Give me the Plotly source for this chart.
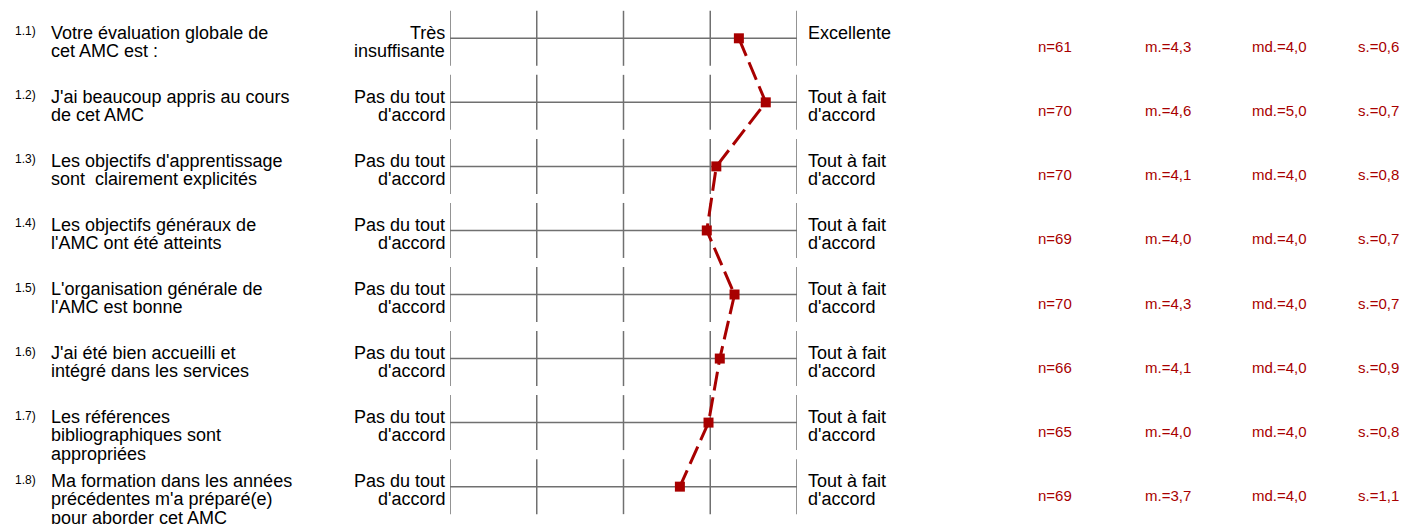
import plotly.graph_objects as go

W, H = 1404, 524

qnums = ["1.1)", "1.2)", "1.3)", "1.4)", "1.5)", "1.6)", "1.7)", "1.8)"]
questions = [
    ["Votre évaluation globale de", "cet AMC est :"],
    ["J'ai beaucoup appris au cours", "de cet AMC"],
    ["Les objectifs d'apprentissage", "sont\u00a0 clairement explicités"],
    ["Les objectifs généraux de", "l'AMC ont été atteints"],
    ["L'organisation générale de", "l'AMC est bonne"],
    ["J'ai été bien accueilli et", "intégré dans les services"],
    ["Les références", "bibliographiques sont", "appropriées"],
    ["Ma formation dans les années", "précédentes m'a préparé(e)", "pour aborder cet AMC"],
]
left_labels = [["Très", "insuffisante"]] + [["Pas du tout", "d'accord"]] * 7
right_labels = [["Excellente"]] + [["Tout à fait", "d'accord"]] * 7
means_plot = [4.33, 4.64, 4.07, 3.96, 4.28, 4.11, 3.98, 3.65]
n_vals = [61, 70, 70, 69, 70, 66, 65, 69]
mean_txt = ["4,3", "4,6", "4,1", "4,0", "4,3", "4,1", "4,0", "3,7"]
median_txt = ["4,0", "5,0", "4,0", "4,0", "4,0", "4,0", "4,0", "4,0"]
sd_txt = ["0,6", "0,7", "0,8", "0,7", "0,7", "0,9", "0,8", "1,1"]
scale_points = [1, 2, 3, 4, 5]

RED = "#a80000"
GRID = "#707070"
FONT = "Arial, Liberation Sans, sans-serif"

# pixel geometry
x_left_px, x_right_px = 450, 797
row0_px, row_step = 38.3, 64.05
y_top = -row0_px / row_step
y_bot = y_top + H / row_step

rows = list(range(len(qnums)))

fig = go.Figure()
fig.add_trace(go.Scatter(
    x=means_plot, y=rows, mode="lines+markers",
    line=dict(color=RED, width=3, dash="19px,7px"),
    marker=dict(symbol="square", size=10, color=RED),
    hoverinfo="skip", showlegend=False,
))

shapes = []
half = 27.5 / row_step
for i in rows:
    shapes.append(dict(type="line", xref="x", yref="y", x0=scale_points[0], x1=scale_points[-1],
                       y0=i, y1=i, line=dict(color=GRID, width=1.5), layer="below"))
    for p in scale_points:
        shapes.append(dict(type="line", xref="x", yref="y", x0=p, x1=p,
                           y0=i - half, y1=i + half, line=dict(color=GRID, width=1.5), layer="below"))

def px(x):
    return x / W

LINE0 = 5.5     # first text line centre above row line (px)
LSTEP = 18.2    # line spacing (px)

ann = []
def add_lines(lines, i, xpx, anchor):
    for k, t in enumerate(lines):
        ann.append(dict(x=px(xpx), y=i, xref="paper", yref="y", text=t, showarrow=False,
                        xanchor=anchor, yanchor="middle", yshift=LINE0 - LSTEP * k,
                        font=dict(size=18, color="#000", family=FONT)))

for i in rows:
    ann.append(dict(x=px(13), y=i, xref="paper", yref="y", text=qnums[i], showarrow=False,
                    xanchor="left", yanchor="middle", yshift=7, font=dict(size=12, color="#000", family=FONT)))
    add_lines(questions[i], i, 49, "left")
    add_lines(left_labels[i], i, 447, "right")
    add_lines(right_labels[i], i, 806, "left")
    stats = [f"n={n_vals[i]}", f"m.={mean_txt[i]}", f"md.={median_txt[i]}", f"s.={sd_txt[i]}"]
    for sx, st in zip([1036, 1143, 1250, 1356], stats):
        ann.append(dict(x=px(sx), y=i, xref="paper", yref="y", text=st, showarrow=False,
                        xanchor="left", yanchor="middle", yshift=-8.5,
                        font=dict(size=15, color=RED, family=FONT)))

fig.update_layout(
    width=W, height=H, margin=dict(l=0, r=0, t=0, b=0),
    paper_bgcolor="white", plot_bgcolor="white",
    xaxis=dict(domain=[x_left_px / W, x_right_px / W], range=[1, 5], visible=False, fixedrange=True),
    yaxis=dict(domain=[0, 1], range=[y_bot, y_top], visible=False, fixedrange=True),
    shapes=shapes, annotations=ann,
)

fig.write_html("out.html", config={"displayModeBar": False},
               post_script="document.body.style.margin='0';document.body.style.overflow='hidden';")
